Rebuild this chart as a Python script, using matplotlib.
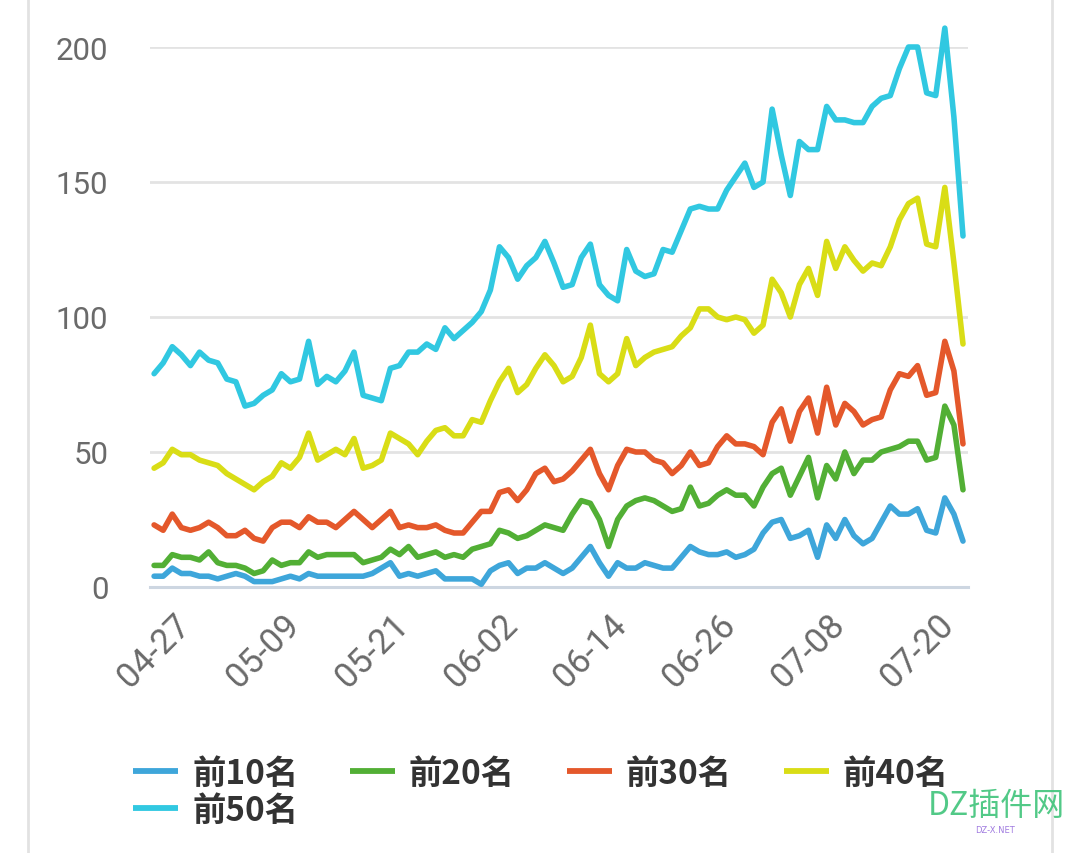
import matplotlib
matplotlib.use('Agg')
import matplotlib.pyplot as plt
import numpy as np
import datetime as dt
from matplotlib.lines import Line2D

# ---------------- data ----------------
start_date = dt.date(2024, 4, 27)
n_days = 90
dates = [(start_date + dt.timedelta(days=i)).strftime('%m-%d') for i in range(n_days)]

series_names = ['前10名', '前20名', '前30名', '前40名', '前50名']

top10 = [4, 4, 7, 5, 5, 4, 4, 3, 4, 5, 4, 2, 2, 2, 3, 4, 3, 5, 4, 4,
         4, 4, 4, 4, 5, 7, 9, 4, 5, 4, 5, 6, 3, 3, 3, 3, 1, 6, 8, 9,
         5, 7, 7, 9, 7, 5, 7, 11, 15, 9, 4, 9, 7, 7, 9, 8, 7, 7, 11, 15,
         13, 12, 12, 13, 11, 12, 14, 20, 24, 25, 18, 19, 21, 11, 23, 18, 25, 19, 16, 18,
         24, 30, 27, 27, 29, 21, 20, 33, 27, 17]

top20 = [8, 8, 12, 11, 11, 10, 13, 9, 8, 8, 7, 5, 6, 10, 8, 9, 9, 13, 11, 12,
         12, 12, 12, 9, 10, 11, 14, 12, 15, 11, 12, 13, 11, 12, 11, 14, 15, 16, 21, 20,
         18, 19, 21, 23, 22, 21, 27, 32, 31, 25, 15, 25, 30, 32, 33, 32, 30, 28, 29, 37,
         30, 31, 34, 36, 34, 34, 30, 37, 42, 44, 34, 41, 48, 33, 45, 40, 50, 42, 47, 47,
         50, 51, 52, 54, 54, 47, 48, 67, 60, 36]

top30 = [23, 21, 27, 22, 21, 22, 24, 22, 19, 19, 21, 18, 17, 22, 24, 24, 22, 26, 24, 24,
         22, 25, 28, 25, 22, 25, 28, 22, 23, 22, 22, 23, 21, 20, 20, 24, 28, 28, 35, 36,
         32, 36, 42, 44, 39, 40, 43, 47, 51, 42, 36, 45, 51, 50, 50, 47, 46, 42, 45, 50,
         45, 46, 52, 56, 53, 53, 52, 49, 61, 66, 54, 65, 70, 57, 74, 60, 68, 65, 60, 62,
         63, 73, 79, 78, 82, 71, 72, 91, 80, 53]

top40 = [44, 46, 51, 49, 49, 47, 46, 45, 42, 40, 38, 36, 39, 41, 46, 44, 48, 57, 47, 49,
         51, 49, 55, 44, 45, 47, 57, 55, 53, 49, 54, 58, 59, 56, 56, 62, 61, 69, 76, 81,
         72, 75, 81, 86, 82, 76, 78, 85, 97, 79, 76, 79, 92, 82, 85, 87, 88, 89, 93, 96,
         103, 103, 100, 99, 100, 99, 94, 97, 114, 109, 100, 112, 118, 108, 128, 118, 126, 121, 117, 120,
         119, 126, 136, 142, 144, 127, 126, 148, 120, 90]

top50 = [79, 83, 89, 86, 82, 87, 84, 83, 77, 76, 67, 68, 71, 73, 79, 76, 77, 91, 75, 78,
         76, 80, 87, 71, 70, 69, 81, 82, 87, 87, 90, 88, 96, 92, 95, 98, 102, 110, 126, 122,
         114, 119, 122, 128, 120, 111, 112, 122, 127, 112, 108, 106, 125, 117, 115, 116, 125, 124, 132, 140,
         141, 140, 140, 147, 152, 157, 148, 150, 177, 160, 145, 165, 162, 162, 178, 173, 173, 172, 172, 178,
         181, 182, 192, 200, 200, 183, 182, 207, 174, 130]

y_ticks = [0, 50, 100, 150, 200]
tick_step = 12

colors = ['#3ea6da', '#52af35', '#e4582b', '#d9dd16', '#31c8e1']

# ---------------- figure ----------------
W, H = 1080, 854
fig = plt.figure(figsize=(W / 100, H / 100), dpi=100)
fig.patch.set_facecolor('white')

ax_left, ax_right = 150, 968
ax_top, ax_bottom = 48, 588
ax = fig.add_axes([ax_left / W, 1 - ax_bottom / H, (ax_right - ax_left) / W, (ax_bottom - ax_top) / H])

x = np.arange(n_days)
all_series = [top10, top20, top30, top40, top50]
lines = []
for name, vals, c in zip(series_names, all_series, colors):
    ln, = ax.plot(x, vals, color=c, lw=4.0, label=name, solid_joinstyle='round',
                  solid_capstyle='round', clip_on=False, zorder=3)
    lines.append(ln)

ax.set_xlim(-0.45, n_days - 1 + 0.55)
ax.set_ylim(0, 200)

ax.set_yticks(y_ticks)
ax.set_yticklabels([str(v) for v in y_ticks])
ax.yaxis.grid(True, color='#e3e3e3', lw=2)
ax.set_axisbelow(True)
ax.tick_params(axis='y', length=0, pad=30, labelsize=22.5, labelcolor='#6a6a6a')
for lab in ax.get_yticklabels():
    lab.set_fontfamily(['Roboto', 'DejaVu Sans'])

xt = list(range(0, n_days, tick_step))
ax.set_xticks(xt)
ax.set_xticklabels([dates[i] for i in xt], rotation=45, ha='center', va='top')
ax.tick_params(axis='x', length=0, pad=15, labelsize=25, labelcolor='#6a6a6a')
for lab in ax.get_xticklabels():
    lab.set_fontfamily(['Roboto', 'DejaVu Sans'])

for s in ['top', 'right', 'left']:
    ax.spines[s].set_visible(False)
ax.spines['bottom'].set_color('#cdd6e1')
ax.spines['bottom'].set_linewidth(2.2)
ax.spines['bottom'].set_zorder(2)

# legend (row-major order: matplotlib fills columns first)
order = [0, 4, 1, 2, 3]
leg = fig.legend([lines[i] for i in order], [series_names[i] for i in order],
                 loc='upper left', bbox_to_anchor=(133 / W, 1 - 758 / H), ncol=4,
                 frameon=False, handlelength=1.35, handletextpad=0.42,
                 columnspacing=1.55, labelspacing=0.12, borderpad=0, borderaxespad=0,
                 prop={'family': ['Noto Sans CJK SC', 'DejaVu Sans'], 'weight': 'bold', 'size': 24})
for t in leg.get_texts():
    t.set_color('#333333')
for h in leg.legend_handles:
    h.set_linewidth(4.2)
    h.set_solid_capstyle('butt')

# card borders
fig.add_artist(Line2D([28 / W, 28 / W], [0, 1], color='#e2e2e2', lw=2))
fig.add_artist(Line2D([1052 / W, 1052 / W], [0, 1], color='#e2e2e2', lw=2))

# watermark
fig.text(928 / W, 1 - 806 / H, 'DZ插件网', color='#3fc47a', fontsize=23,
         family=['Noto Sans CJK SC', 'DejaVu Sans'], va='center', ha='left', alpha=0.9)
fig.text(995 / W, 1 - 831 / H, 'DZ-X.NET', color='#a07be0', fontsize=6,
         family=['DejaVu Sans'], va='center', ha='center')

fig.savefig('out.png', dpi=100, facecolor='white')
